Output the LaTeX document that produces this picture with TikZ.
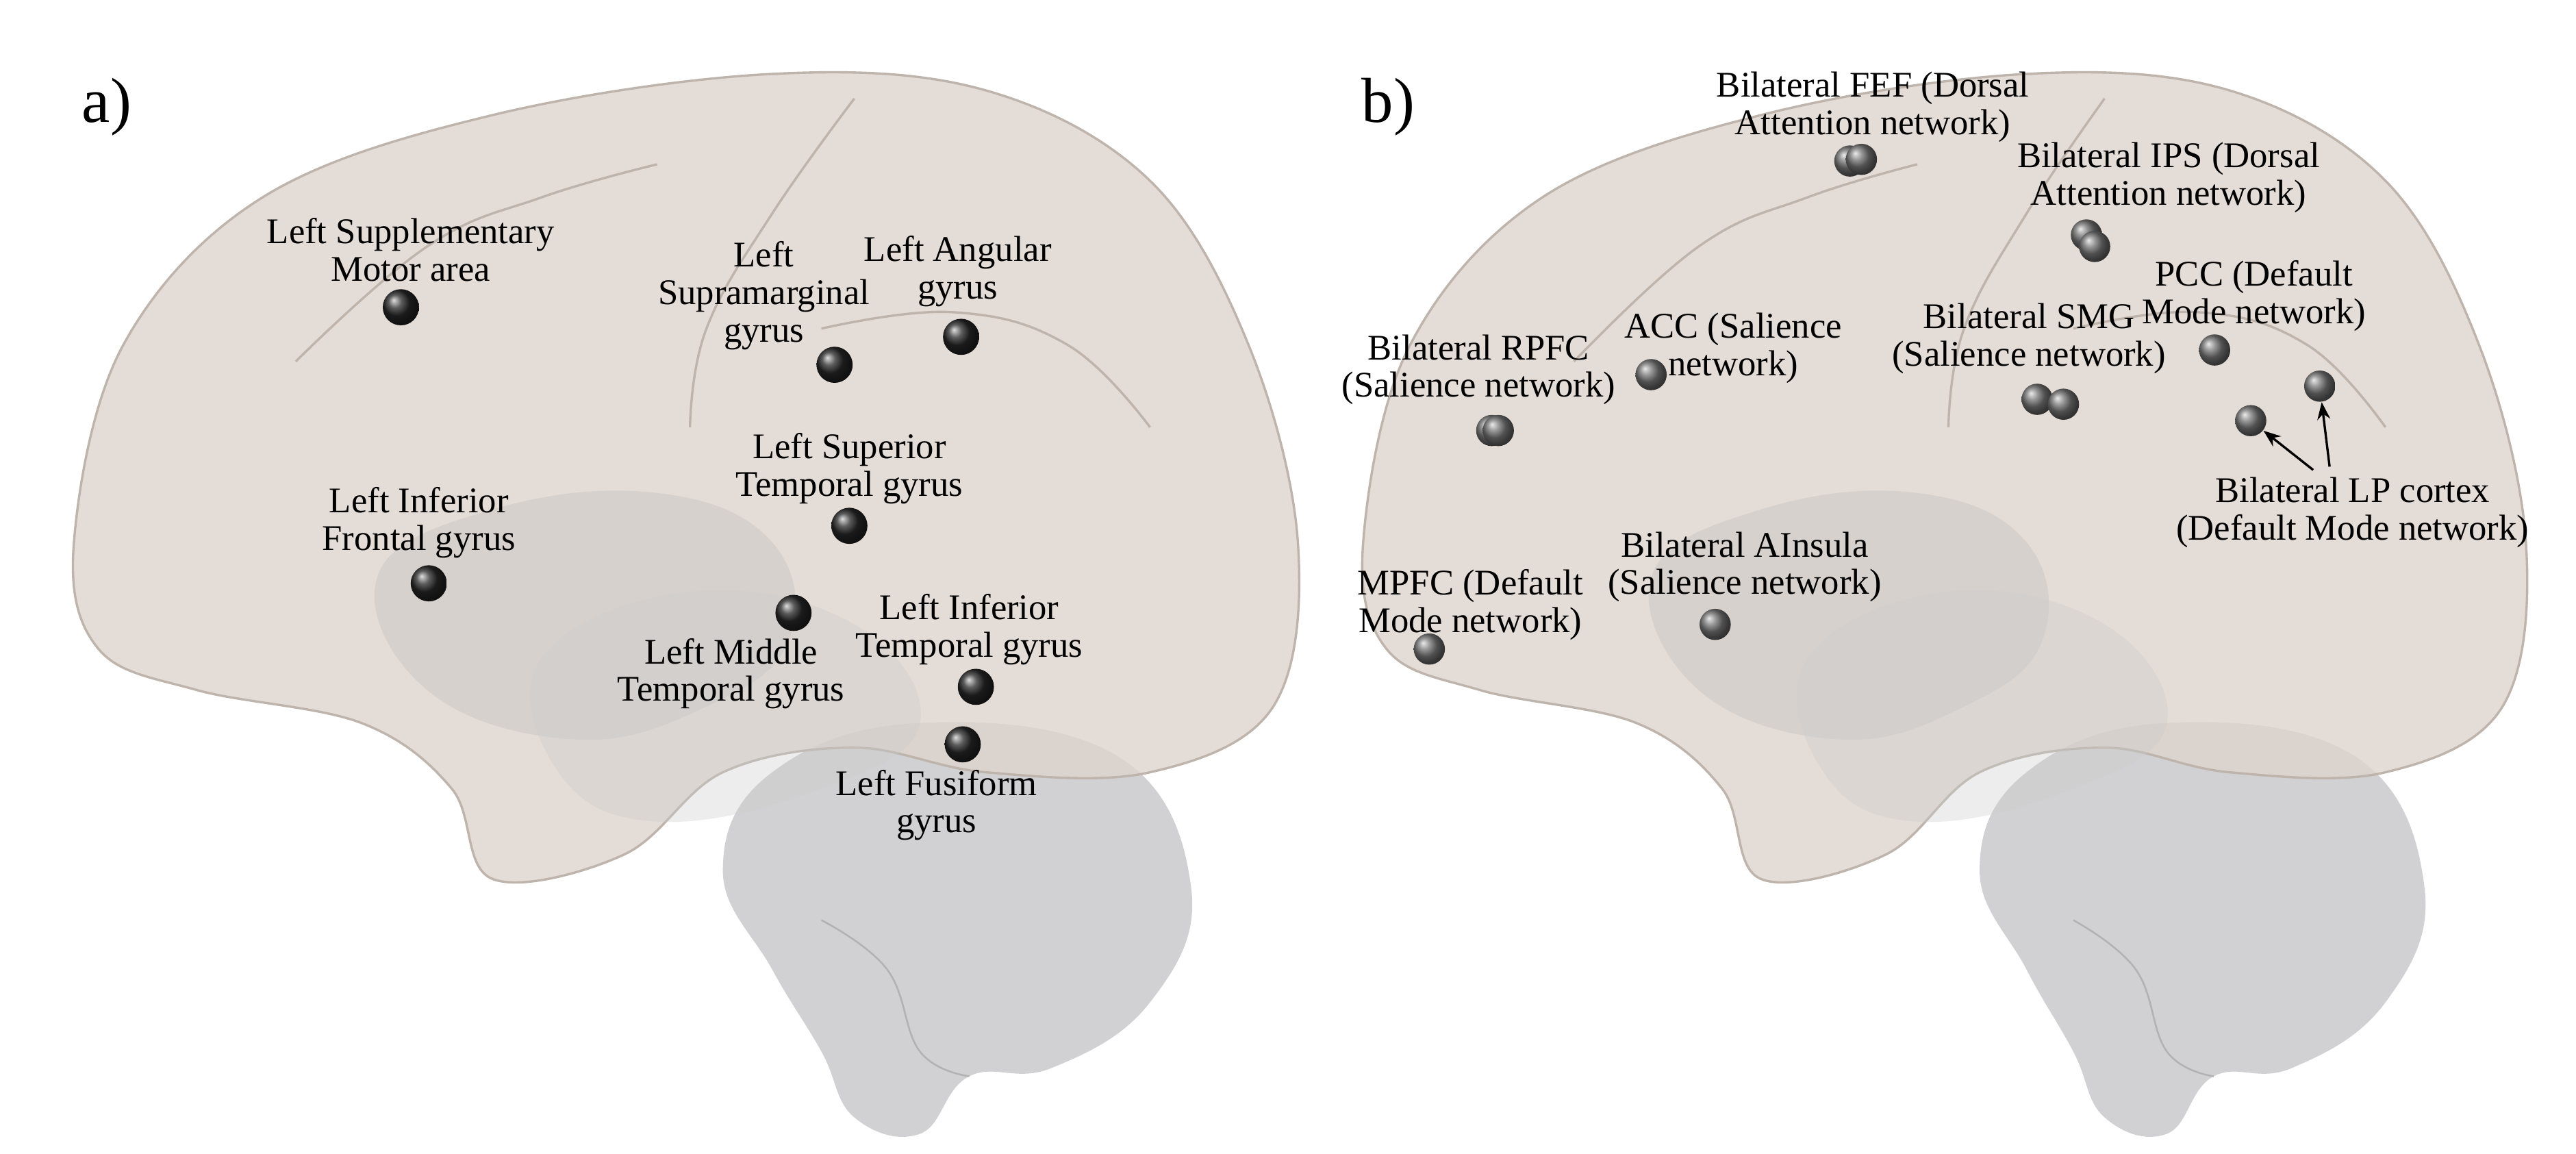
\documentclass[tikz,border=0pt]{standalone}
\usepackage{fontspec}
\setmainfont{Liberation Serif}
\usetikzlibrary{shapes.geometric,arrows.meta}
\definecolor{cortex}{RGB}{222,212,204}
\definecolor{cortexline}{RGB}{190,180,172}
\definecolor{cereb}{RGB}{205,205,207}
\tikzset{
 lab/.style={align=center,font=\fontsize{12.5}{13}\selectfont,inner sep=1pt},
 dotA/.style={circle,inner sep=0pt,minimum size=22*0.02cm,ball color=black!85,draw=none},
 dotB/.style={circle,inner sep=0pt,minimum size=19*0.02cm,ball color=black!55,draw=none},
 panel/.style={font=\fontsize{22}{24}\selectfont},
 arr/.style={-{Stealth[length=6pt]},line width=0.8pt}
}
\newcommand\drawbrain{%
 \fill[cereb,opacity=0.9] plot[smooth cycle,tension=0.7] coordinates{(470,470)(560,440)(680,460)(725,540)(700,610)(640,650)(590,655)(560,690)(520,680)(500,640)(470,590)(440,530)};
 \draw[black!30,line width=0.6pt] plot[smooth,tension=0.7] coordinates{(500,560)(540,590)(560,640)(590,655)};
 \fill[cortex,opacity=0.8] plot[smooth cycle,tension=0.6] coordinates{(45,330)(75,210)(160,120)(300,70)(470,45)(600,55)(700,110)(760,210)(790,330)(775,430)(700,470)(600,470)(520,455)(440,470)(380,520)(300,535)(275,480)(220,440)(120,420)(60,395)};
 \draw[cortexline,line width=0.8pt] plot[smooth cycle,tension=0.6] coordinates{(45,330)(75,210)(160,120)(300,70)(470,45)(600,55)(700,110)(760,210)(790,330)(775,430)(700,470)(600,470)(520,455)(440,470)(380,520)(300,535)(275,480)(220,440)(120,420)(60,395)};
 \fill[black!25,opacity=0.35] plot[smooth cycle,tension=0.7] coordinates{(230,350)(300,310)(400,300)(470,330)(480,390)(430,430)(350,450)(260,420)};
 \fill[black!20,opacity=0.35] plot[smooth cycle,tension=0.7] coordinates{(330,400)(420,360)(520,380)(560,440)(500,480)(400,500)(340,470)};
 \draw[cortexline,line width=0.8pt] plot[smooth,tension=0.7] coordinates{(180,220)(260,150)(330,120)(400,100)};
 \draw[cortexline,line width=0.8pt] plot[smooth,tension=0.7] coordinates{(520,60)(470,130)(430,200)(420,260)};
 \draw[cortexline,line width=0.8pt] plot[smooth,tension=0.7] coordinates{(500,200)(580,190)(650,210)(700,260)};
}
\begin{document}
\begin{tikzpicture}[x=0.02cm,y=-0.02cm]
\useasboundingbox (0,0) rectangle (1568,702);
\fill[white] (0,0) rectangle (1568,702);
\drawbrain
\begin{scope}[shift={(787,0)},xscale=0.95]\drawbrain\end{scope}
\node[panel] (pa) at (65,65) {a)};
\node[panel] (pb) at (845,65) {b)};
\node[dotA] (d1) at (244,187) {};
\node[dotA] (d2) at (508,222) {};
\node[dotA] (d3) at (585,205) {};
\node[dotA] (d4) at (517,320) {};
\node[dotA] (d5) at (261,355) {};
\node[dotA] (d6) at (483,373) {};
\node[dotA] (d7) at (594,418) {};
\node[dotA] (d8) at (586,453) {};
\node[lab] (l1) at (250,152) {Left Supplementary\\Motor area};
\node[lab] (l2) at (465,180) {Left\\Supramarginal\\gyrus};
\node[lab] (l3) at (583,165) {Left Angular\\gyrus};
\node[lab] (l4) at (517,285) {Left Superior\\Temporal gyrus};
\node[lab] (l5) at (255,318) {Left Inferior\\Frontal gyrus};
\node[lab] (l6) at (445,410) {Left Middle\\Temporal gyrus};
\node[lab] (l7) at (590,383) {Left Inferior\\Temporal gyrus};
\node[lab] (l8) at (570,490) {Left Fusiform\\gyrus};
\node[dotB] (e1) at (1126,98) {};
\node[dotB] (e2) at (1133,97) {};
\node[dotB] (e3) at (1270,143) {};
\node[dotB] (e4) at (1275,150) {};
\node[dotB] (e5) at (1005,228) {};
\node[dotB] (e6) at (908,262) {};
\node[dotB] (e7) at (912,262) {};
\node[dotB] (e8) at (1240,243) {};
\node[dotB] (e9) at (1256,246) {};
\node[dotB] (e10) at (1348,213) {};
\node[dotB] (e11) at (1370,256) {};
\node[dotB] (e12) at (1412,235) {};
\node[dotB] (e13) at (1044,380) {};
\node[dotB] (e14) at (870,395) {};
\node[lab] (m1) at (1140,65) {Bilateral FEF (Dorsal\\Attention network)};
\node[lab] (m2) at (1320,108) {Bilateral IPS (Dorsal\\Attention network)};
\node[lab] (m3) at (1055,212) {ACC (Salience\\network)};
\node[lab] (m4) at (900,225) {Bilateral RPFC\\(Salience network)};
\node[lab] (m5) at (1235,206) {Bilateral SMG\\(Salience network)};
\node[lab] (m6) at (1372,180) {PCC (Default\\Mode network)};
\node[lab] (m7) at (1432,312) {Bilateral LP cortex\\(Default Mode network)};
\node[lab] (m8) at (1062,345) {Bilateral AInsula\\(Salience network)};
\node[lab] (m9) at (895,368) {MPFC (Default\\Mode network)};
\coordinate (a1) at (1408,286);
\coordinate (a2) at (1418,284);
\draw[arr] (a1) -- (e11);
\draw[arr] (a2) -- (e12);
\end{tikzpicture}
\end{document}
